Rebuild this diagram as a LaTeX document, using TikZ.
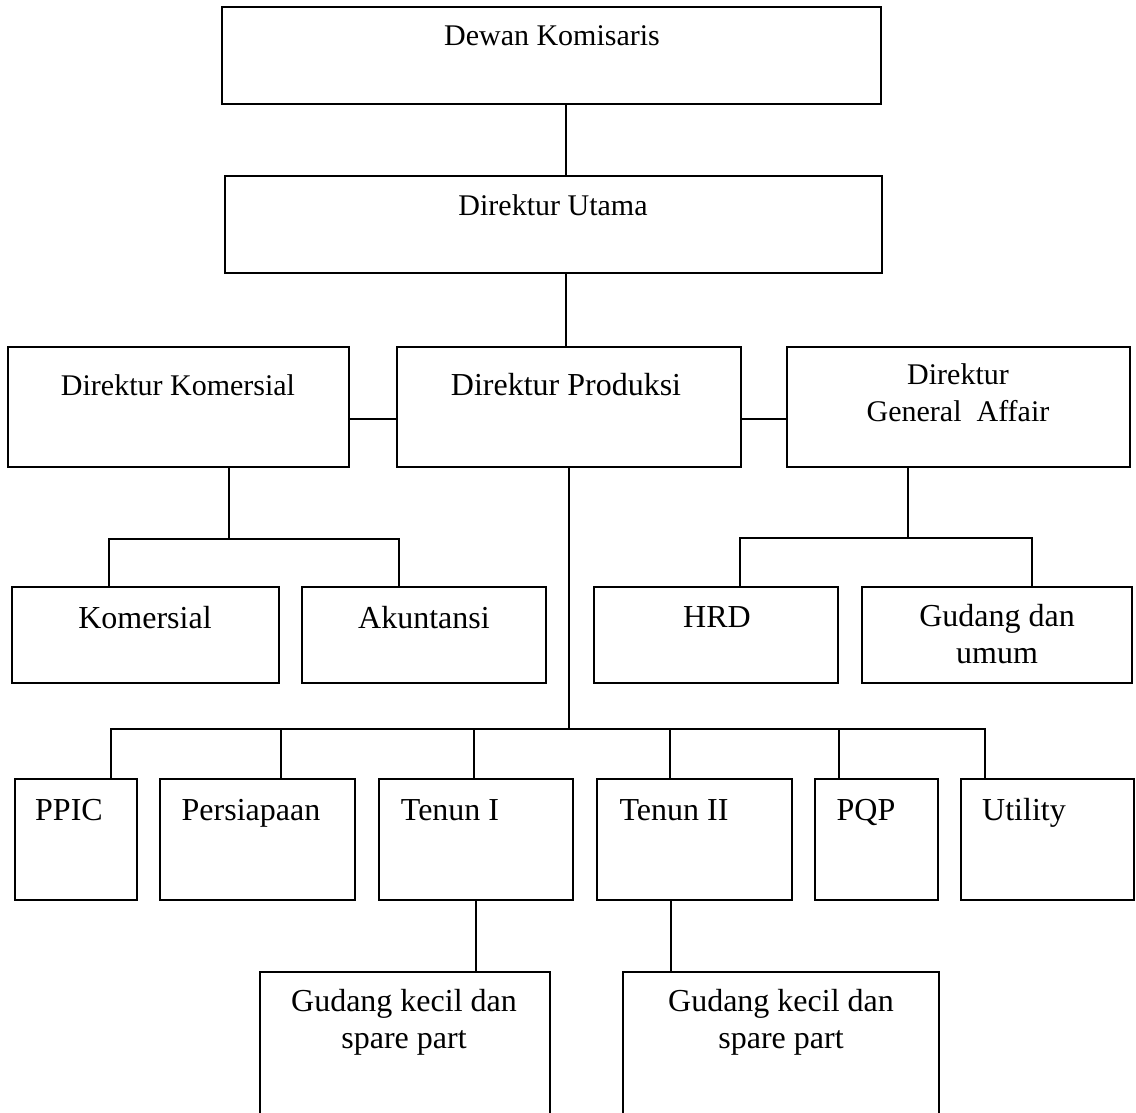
\documentclass[tikz,border=0pt]{standalone}
\usepackage{fontspec}
\setmainfont{Liberation Serif}
\usepackage{tikz}
\usetikzlibrary{positioning}
\tikzstyle{block}=[draw=black,line width=1.3pt]
\tikzstyle{unit}=[style=block, rectangle, inner sep=0pt, outer sep=0pt, anchor=north west]
\tikzstyle{wire}=[draw=black,line width=1.3pt]
\tikzstyle{caption}=[inner sep=0pt, anchor=base, align=center,
    font=\fontsize{30}{37}\selectfont]
\tikzstyle{bigcaption}=[style=caption, font=\fontsize{32}{37}\selectfont]

\begin{document}
\begin{tikzpicture}[x=1pt, y=-1pt]
            \clip (0,0) rectangle (1136,1113);
            % top of the chart
            \node[unit, minimum width=659pt, minimum height=97pt] (dewan) at (222,7) {};
            \node[unit, minimum width=657pt, minimum height=97pt] (utama) at (225,176) {};
            % directors
            \node[unit, minimum width=341pt, minimum height=120pt] (dkom) at (8,347) {};
            \node[unit, minimum width=344pt, minimum height=120pt] (dprod) at (397,347) {};
            \node[unit, minimum width=343pt, minimum height=120pt] (dga) at (787,347) {};
            % departments
            \node[unit, minimum width=267pt, minimum height=96pt] (kom) at (12,587) {};
            \node[unit, minimum width=244pt, minimum height=96pt] (akun) at (302,587) {};
            \node[unit, minimum width=244pt, minimum height=96pt] (hrd) at (594,587) {};
            \node[unit, minimum width=270pt, minimum height=96pt] (gdu) at (862,587) {};
            % production units
            \node[unit, minimum width=122pt, minimum height=121pt] (ppic) at (15,779) {};
            \node[unit, minimum width=195pt, minimum height=121pt] (pers) at (160,779) {};
            \node[unit, minimum width=194pt, minimum height=121pt] (ten1) at (379,779) {};
            \node[unit, minimum width=195pt, minimum height=121pt] (ten2) at (597,779) {};
            \node[unit, minimum width=123pt, minimum height=121pt] (pqp) at (815,779) {};
            \node[unit, minimum width=173pt, minimum height=121pt] (util) at (961,779) {};
            \node[unit, minimum width=290pt, minimum height=158pt] (gk1) at (260,972) {};
            \node[unit, minimum width=316pt, minimum height=158pt] (gk2) at (623,972) {};

            % texts
            \node[caption] (tdewan) at (552,46) {Dewan Komisaris};
            \node[caption] (tutama) at (553,215) {Direktur Utama};
            \node[caption] (tdkom) at (178,395) {Direktur Komersial};
            \node[bigcaption] (tdprod) at (566,395) {Direktur Produksi};
            \node[caption] (tdga) at (958,421) {Direktur\\General~~Affair};
            \node[bigcaption] (tkom) at (145,628) {Komersial};
            \node[bigcaption] (takun) at (424,628) {Akuntansi};
            \node[bigcaption] (thrd) at (717,627) {HRD};
            \node[bigcaption] (tgdu) at (997,663) {Gudang dan\\umum};
            \node[bigcaption] (tppic) at (69,820) {PPIC};
            \node[bigcaption] (tpers) at (251,820) {Persiapaan};
            \node[bigcaption] (tten1) at (450,820) {Tenun I};
            \node[bigcaption] (tten2) at (674,820) {Tenun II};
            \node[bigcaption] (tpqp) at (866,820) {PQP};
            \node[bigcaption] (tutil) at (1024,820) {Utility};
            \node[bigcaption] (tgk1) at (404,1048) {Gudang kecil dan\\spare part};
            \node[bigcaption] (tgk2) at (781,1048) {Gudang kecil dan\\spare part};

            % connectors
            \coordinate (spine) at (566,0);
            \coordinate (midrow) at (0,419);
            \coordinate (komjoin) at (229,539);
            \coordinate (gajoin) at (908,538);
            \coordinate (prodjoin) at (569,729);
            \draw[wire] (dewan.south -| spine) -- (utama.north -| spine);
            \draw[wire] (utama.south -| spine) -- (dprod.north -| spine);
            \draw[wire] (dkom.east |- midrow) -- (dprod.west |- midrow);
            \draw[wire] (dprod.east |- midrow) -- (dga.west |- midrow);
            \draw[wire] (dkom.south -| komjoin) -- (komjoin);
            \draw[wire] ([xshift=-36.5pt]kom.north) |- (komjoin) -| ([xshift=-25pt]akun.north);
            \draw[wire] (dga.south -| gajoin) -- (gajoin);
            \draw[wire] ([xshift=24pt]hrd.north) |- (gajoin) -| ([xshift=35pt]gdu.north);
            \draw[wire] (dprod.south) -- (prodjoin);
            \draw[wire] ([xshift=35pt]ppic.north) |- (prodjoin) -| ([xshift=-62.5pt]util.north);
            \foreach \n/\s in {pers/23.5, ten1/-2, ten2/-24.5, pqp/-37.5}
                \draw[wire] ([xshift=\s pt]\n.north) -- ([xshift=\s pt]\n.north |- prodjoin);
            \draw[wire] (ten1.south) -- (ten1.south |- gk1.north);
            \draw[wire] ([xshift=-23.5pt]ten2.south) -- ([xshift=-23.5pt]ten2.south |- gk2.north);
        \end{tikzpicture}
\end{document}
